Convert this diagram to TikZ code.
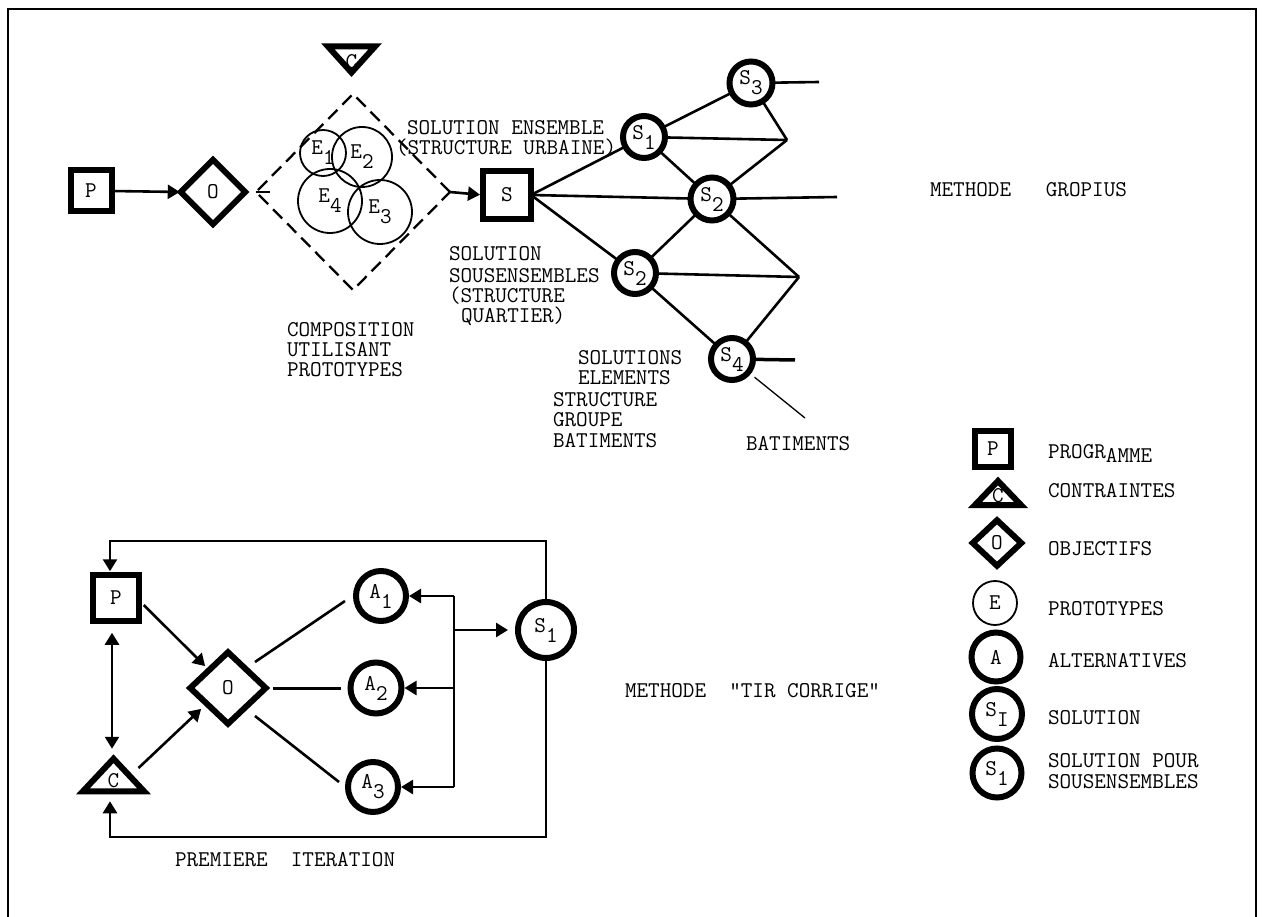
\documentclass[tikz,border=0pt]{standalone}
\usetikzlibrary{shapes.geometric,arrows.meta}
\newcommand\mytt{\fontsize{22.5}{22.5}\selectfont\ttfamily}
\newcommand\dn[1]{\raisebox{-10pt}{#1}}
\begin{document}
\begin{tikzpicture}[x=1pt,y=-1pt,
  every node/.style={font=\mytt, inner sep=0pt, outer sep=0pt},
  thickbox/.style={draw, rectangle, line width=6pt, minimum size=#1},
  dia/.style={draw, diamond, line width=6pt, minimum width=#1, minimum height=#1},
  thickcirc/.style={draw, circle, line width=6pt, minimum size=#1},
  thincirc/.style={draw, circle, line width=1.8pt, minimum size=#1},
  tribox/.style={rectangle},
  tri/.style={line width=6pt, line join=miter},
  txt/.style={anchor=base west},
  conn/.style={line width=2.6pt},
  arr/.style={conn, -{Triangle[length=12pt,width=14pt]}},
  darr/.style={conn, {Triangle[length=12pt,width=14pt]}-{Triangle[length=12pt,width=14pt]}},
  frame/.style={line width=1.5pt}
]
\useasboundingbox (0,0) rectangle (1262,917);
\fill[white] (0,0) rectangle (1262,917);
% frame
\draw[frame] (8,917) -- (8,9) -- (1256,9) -- (1256,917);

% ---------------- METHODE GROPIUS ----------------
\node[thickbox=41pt] (P1) at (91,191) {P};
\node[dia=64.5pt] (O1) at (213,192) {O};
\node[draw, diamond, dash pattern=on 13pt off 7pt, line width=2.3pt,
      minimum width=194pt, minimum height=196pt] (D) at (353,192) {};
\node[thincirc=46pt] (E1) at (323,153) {E\dn{1}};
\node[thincirc=60pt] (E2) at (362,157) {E\dn{2}};
\node[thincirc=64pt] (E4) at (330,201) {E\dn{4}};
\node[thincirc=64pt] (E3) at (380,212) {E\dn{3}};
\node[tribox, minimum width=47pt, minimum height=26pt,
      label={[yshift=-2pt]center:C}] (TC) at (351.5,59.5) {};
\draw[tri] (TC.north west) -- (TC.north east) -- (TC.south) -- cycle;
\node[thickbox=48pt] (SB) at (507,195) {S};

\draw[arr, shorten <=3pt, shorten >=1pt] (P1.east) -- (O1.west);
\draw[line width=2.3pt] (D.west) -- ++(14,0);
\draw[arr, shorten >=3pt] (D.east) -- (SB.west);

% network
\node[thickcirc=42pt] (N1) at (644,137) {S\dn{1}};
\node[thickcirc=43pt] (N3) at (751,83) {S\dn{3}};
\node[thickcirc=43pt] (N2a) at (712,199) {S\dn{2}};
\node[thickcirc=42pt] (N2b) at (635,273) {S\dn{2}};
\node[thickcirc=42pt] (N4) at (732,359) {S\dn{4}};
\coordinate (J1) at (787,140);
\coordinate (J2) at (799,277);
\coordinate (N3r) at (819,82);
\coordinate (N2r) at (837,197);
\coordinate (N4r) at (795,360);
\coordinate (batp) at (805,418);

\draw[conn] (SB.east) -- (N1);
\draw[conn] (SB.east) -- (N2a);
\draw[conn] (SB.east) -- (N2b);
\draw[conn] (N1) -- (N3);
\draw[conn] (N1) -- (N2a);
\draw[conn] (N2a) -- (N2b);
\draw[conn] (N2b) -- (N4);
\draw[conn] (N1) -- (J1);
\draw[conn] (N3) -- (J1);
\draw[conn] (N2a) -- (J1);
\draw[conn] (N2a) -- (J2);
\draw[conn] (N2b) -- (J2);
\draw[conn] (N4) -- (J2);
\draw[conn] (N3) -- (N3r);
\draw[conn] (N2a) -- (N2r);
\draw[line width=3.5pt] (N4) -- (N4r);
\draw[line width=1.3pt, shorten <=8pt] (N4) -- (batp);

% texts top
\node[txt] (t1) at (407,135) {SOLUTION ENSEMBLE};
\node[txt] (t2) at (396,155) {(STRUCTURE URBAINE)};
\node[txt] (t3) at (449,261) {SOLUTION};
\node[txt] (t4) at (449,283) {SOUSENSEMBLES};
\node[txt] (t5) at (449,303) {(STRUCTURE};
\node[txt] (t6) at (461,323) {QUARTIER)};
\node[txt] (t7) at (287,337) {COMPOSITION};
\node[txt] (t8) at (287,357) {UTILISANT};
\node[txt] (t9) at (287,377) {PROTOTYPES};
\node[txt] (t10) at (578,365) {SOLUTIONS};
\node[txt] (t11) at (578,385) {ELEMENTS};
\node[txt] (t12) at (553,407) {STRUCTURE};
\node[txt] (t13) at (553,427) {GROUPE};
\node[txt] (t14) at (553,447) {BATIMENTS};
\node[txt] (t15) at (746,450) {BATIMENTS};
\node[txt] (t16) at (930,197) {METHODE\ \ \ GROPIUS};

% ---------------- LEGEND ----------------
\node[thickbox=36pt] (LP) at (993,449) {P};
\node[tribox, minimum width=46pt, minimum height=24pt,
      label={[yshift=-3pt]center:C}] (LC) at (998,493) {};
\draw[tri] (LC.north) -- (LC.south east) -- (LC.south west) -- cycle;
\node[draw, diamond, line width=6pt, minimum width=48.5pt, minimum height=45.5pt] (LO) at (997,543) {O};
\node[thincirc=44pt] (LE) at (995,603) {E};
\node[thickcirc=49pt] (LA) at (996,657) {A};
\node[thickcirc=50pt] (LSI) at (997,714) {S\dn{I}};
\node[thickcirc=49pt] (LS1) at (997,773) {S\dn{1}};
\node[txt] (l1) at (1048,458) {PROGR\raisebox{-5pt}{AMME}};
\node[txt] (l2) at (1048,497) {CONTRAINTES};
\node[txt] (l3) at (1048,555) {OBJECTIFS};
\node[txt] (l4) at (1048,615) {PROTOTYPES};
\node[txt] (l5) at (1048,667) {ALTERNATIVES};
\node[txt] (l6) at (1048,724) {SOLUTION};
\node[txt] (l7) at (1048,767) {SOLUTION POUR};
\node[txt] (l8) at (1048,788) {SOUSENSEMBLES};

% ---------------- METHODE TIR CORRIGE ----------------
\node[thickbox=45.5pt] (PB) at (116,598) {P};
\node[tribox, minimum width=61pt, minimum height=32.5pt,
      label={[yshift=-6pt]center:C}] (CB) at (113.5,775) {};
\draw[tri] (CB.north) -- (CB.south east) -- (CB.south west) -- cycle;
\node[draw, diamond, line width=6pt, minimum width=75.5pt, minimum height=71.5pt] (OB) at (228,688) {O};
\node[thickcirc=50pt] (A1) at (381,596) {A\dn{1}};
\node[thickcirc=51pt] (A2) at (376,688) {A\dn{2}};
\node[thickcirc=50pt] (A3) at (373,787) {A\dn{3}};
\node[thickcirc=56pt] (S1B) at (546,630) {S\dn{1}};
\coordinate (busT) at (454,596);
\coordinate (busB) at (454,787);
\coordinate (loopT) at (110,541);
\coordinate (loopB) at (110,837);

\draw[conn] (busT) -- (busB);
\draw[arr, shorten >=3pt] (busT) -- (A1.east);
\draw[arr, shorten >=3pt] (busT |- A2.east) -- (A2.east);
\draw[arr, shorten >=3pt] (busB) -- (A3.east);
\draw[arr, shorten >=10pt] (busT |- S1B.west) -- (S1B.west);
\draw[arr, shorten >=4pt] (S1B.north) |- (loopT) -- (loopT |- PB.north);
\draw[arr, shorten >=10pt] (S1B.south) |- (loopB) -- (loopB |- CB.south);
\draw[darr, shorten <=12pt, shorten >=10pt] ([xshift=-4pt]PB.south) -- ([xshift=-1.5pt]CB.north);
\draw[arr] ([shift={(5,7)}]PB.east) -- ([shift={(-4,-4)}]OB.north west);
\draw[arr] ([shift={(25,-7)}]CB.center) -- ([shift={(-8,3)}]OB.south west);
\draw[conn] ([shift={(27,-26)}]OB.center) -- ([shift={(-36,5)}]A1.center);
\draw[line width=3pt] ([xshift=7pt]OB.east) -- ([xshift=-10pt]A2.west);
\draw[conn] ([shift={(27,28)}]OB.center) -- ([shift={(-34,-5)}]A3.center);

\node[txt] (b1) at (625,697) {METHODE\ \ "TIR CORRIGE"};
\node[txt] (b2) at (175,866) {PREMIERE\ \ ITERATION};
\end{tikzpicture}
\end{document}
